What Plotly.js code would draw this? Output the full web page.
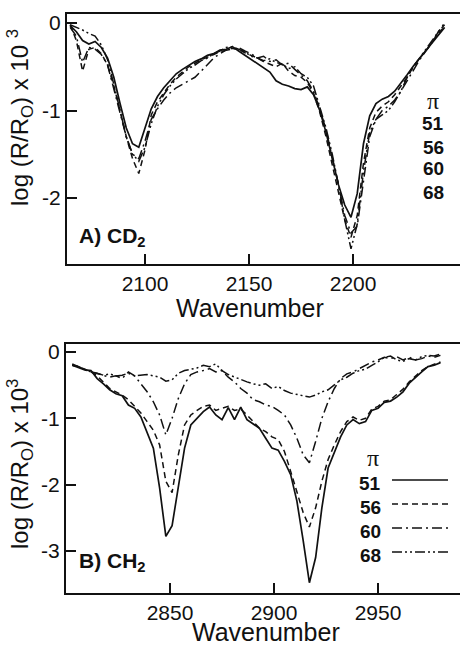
<!DOCTYPE html>
<html>
<head>
<meta charset="utf-8">
<script src="https://cdn.plot.ly/plotly-3.0.1.min.js"></script>
<style>html,body{margin:0;padding:0;background:#fff;}#chart{width:460px;height:648px;}</style>
</head>
<body>
<div id="chart"></div>
<script>
// ---------- Data: panel A (CD2) ----------
const seriesNames = ["51", "56", "60", "68"];
const wavenumberCD2 = [2064,2067,2070,2073,2076,2079,2082,2085,2088,2091,2094,2097,2100,2103,2106,2109,2112,2115,2118,2121,2124,2127,2130,2133,2136,2139,2142,2145,2148,2151,2154,2157,2160,2163,2166,2169,2172,2175,2178,2181,2184,2187,2190,2193,2196,2199,2202,2205,2208,2211,2214,2217,2220,2223,2226,2229,2232,2235,2238,2241,2244];
const cd2_51 = [-0.03,-0.10,-0.20,-0.24,-0.21,-0.28,-0.40,-0.62,-0.92,-1.20,-1.38,-1.42,-1.20,-0.98,-0.84,-0.74,-0.66,-0.58,-0.53,-0.48,-0.44,-0.41,-0.37,-0.35,-0.31,-0.30,-0.27,-0.32,-0.37,-0.42,-0.46,-0.52,-0.56,-0.66,-0.70,-0.72,-0.75,-0.76,-0.73,-0.82,-1.00,-1.25,-1.55,-1.85,-2.08,-2.22,-1.95,-1.38,-1.06,-0.92,-0.87,-0.84,-0.78,-0.69,-0.59,-0.49,-0.40,-0.31,-0.23,-0.14,-0.05];
const cd2_56 = [-0.02,-0.20,-0.55,-0.30,-0.28,-0.35,-0.48,-0.72,-1.00,-1.30,-1.55,-1.72,-1.45,-1.05,-0.90,-0.80,-0.70,-0.62,-0.56,-0.50,-0.46,-0.42,-0.39,-0.36,-0.33,-0.31,-0.29,-0.30,-0.34,-0.37,-0.40,-0.44,-0.47,-0.50,-0.46,-0.55,-0.60,-0.62,-0.68,-0.80,-1.02,-1.30,-1.62,-1.95,-2.25,-2.45,-2.20,-1.60,-1.20,-1.02,-0.95,-0.90,-0.82,-0.72,-0.62,-0.50,-0.40,-0.32,-0.22,-0.12,-0.04];
const cd2_60 = [-0.05,-0.15,-0.45,-0.28,-0.30,-0.36,-0.48,-0.75,-1.05,-1.30,-1.50,-1.55,-1.35,-1.10,-0.98,-0.88,-0.80,-0.74,-0.70,-0.66,-0.62,-0.55,-0.48,-0.40,-0.35,-0.31,-0.30,-0.28,-0.32,-0.35,-0.40,-0.38,-0.44,-0.42,-0.48,-0.46,-0.53,-0.60,-0.66,-0.78,-0.98,-1.22,-1.52,-1.85,-2.20,-2.40,-2.32,-1.80,-1.30,-1.10,-1.00,-0.95,-0.88,-0.78,-0.66,-0.55,-0.42,-0.32,-0.22,-0.10,0.00];
const cd2_68 = [-0.02,-0.05,-0.08,-0.12,-0.15,-0.25,-0.42,-0.70,-1.00,-1.30,-1.50,-1.58,-1.42,-1.15,-0.95,-0.82,-0.72,-0.64,-0.58,-0.52,-0.48,-0.43,-0.40,-0.35,-0.32,-0.28,-0.27,-0.30,-0.33,-0.38,-0.40,-0.43,-0.41,-0.45,-0.47,-0.52,-0.50,-0.58,-0.62,-0.72,-0.95,-1.20,-1.50,-1.85,-2.25,-2.58,-2.30,-1.70,-1.25,-1.10,-1.05,-1.00,-0.90,-0.78,-0.62,-0.50,-0.40,-0.30,-0.20,-0.10,-0.02];

// ---------- Data: panel B (CH2) ----------
const wavenumberCH2 = [2803,2806,2809,2812,2815,2818,2821,2824,2827,2830,2833,2836,2839,2842,2845,2848,2851,2854,2857,2860,2863,2866,2869,2872,2875,2878,2881,2884,2887,2890,2893,2896,2899,2902,2905,2908,2911,2914,2917,2920,2923,2926,2929,2932,2935,2938,2941,2944,2947,2950,2953,2956,2959,2962,2965,2968,2971,2974,2977,2980];
const ch2_51 = [-0.20,-0.24,-0.27,-0.28,-0.40,-0.48,-0.57,-0.63,-0.66,-0.80,-0.85,-0.98,-1.22,-1.45,-2.05,-2.78,-2.62,-2.00,-1.45,-1.10,-1.00,-0.90,-0.83,-0.95,-1.02,-0.84,-1.02,-0.83,-1.02,-1.08,-1.15,-1.30,-1.45,-1.48,-1.65,-1.85,-2.25,-2.84,-3.48,-3.10,-2.35,-1.75,-1.50,-1.28,-1.10,-1.02,-1.08,-1.05,-0.88,-0.85,-0.76,-0.74,-0.68,-0.60,-0.47,-0.38,-0.30,-0.22,-0.20,-0.16];
const ch2_56 = [-0.20,-0.22,-0.26,-0.30,-0.36,-0.45,-0.55,-0.60,-0.65,-0.72,-0.82,-0.92,-1.05,-1.18,-1.40,-1.95,-2.12,-1.55,-1.10,-0.95,-0.88,-0.82,-0.80,-0.88,-0.85,-0.82,-0.88,-0.86,-0.95,-1.05,-1.15,-1.20,-1.28,-1.32,-1.50,-1.80,-2.10,-2.42,-2.64,-2.35,-1.95,-1.62,-1.40,-1.20,-1.05,-0.98,-1.03,-1.00,-0.86,-0.82,-0.74,-0.72,-0.64,-0.56,-0.45,-0.36,-0.28,-0.22,-0.18,-0.15];
const ch2_60 = [-0.20,-0.22,-0.27,-0.30,-0.33,-0.35,-0.38,-0.36,-0.40,-0.30,-0.36,-0.48,-0.60,-0.75,-0.95,-1.25,-1.00,-0.70,-0.48,-0.34,-0.30,-0.28,-0.25,-0.30,-0.28,-0.38,-0.45,-0.55,-0.62,-0.72,-0.75,-0.80,-0.82,-0.88,-0.95,-1.10,-1.30,-1.55,-1.67,-1.35,-1.00,-0.75,-0.55,-0.40,-0.33,-0.30,-0.25,-0.20,-0.15,-0.12,-0.08,-0.10,-0.07,-0.12,-0.08,-0.12,-0.10,-0.06,-0.08,-0.05];
const ch2_68 = [-0.18,-0.22,-0.25,-0.30,-0.32,-0.35,-0.33,-0.36,-0.35,-0.32,-0.36,-0.35,-0.34,-0.36,-0.38,-0.44,-0.42,-0.32,-0.28,-0.26,-0.24,-0.20,-0.22,-0.18,-0.28,-0.34,-0.38,-0.42,-0.45,-0.48,-0.50,-0.48,-0.55,-0.52,-0.58,-0.62,-0.64,-0.66,-0.68,-0.65,-0.60,-0.57,-0.50,-0.42,-0.38,-0.32,-0.28,-0.26,-0.20,-0.15,-0.08,-0.06,-0.12,-0.14,-0.10,-0.12,-0.07,-0.05,-0.06,-0.03];

const ticksCD2 = [2100, 2150, 2200];
const ticksCH2 = [2850, 2900, 2950];
const yTicksCD2 = [0, -1, -2];
const yTicksCH2 = [0, -1, -2, -3];

// ---------- Styles ----------
const dashes = ["solid", "6px,4px", "10px,4px,2px,4px", "10px,3px,2px,3px,2px,3px"];
const widths = [1.7, 1.5, 1.5, 1.5];
const cd2Data = [cd2_51, cd2_56, cd2_60, cd2_68];
const ch2Data = [ch2_51, ch2_56, ch2_60, ch2_68];

const traces = [];
seriesNames.forEach((n, i) => {
  traces.push({x: wavenumberCD2, y: cd2Data[i], xaxis: 'x', yaxis: 'y', mode: 'lines', name: n,
    line: {color: '#111', width: widths[i], dash: dashes[i]}, showlegend: false});
});
seriesNames.forEach((n, i) => {
  traces.push({x: wavenumberCH2, y: ch2Data[i], xaxis: 'x2', yaxis: 'y2', mode: 'lines', name: n,
    line: {color: '#111', width: widths[i], dash: dashes[i]}, showlegend: false});
});

const FONT = "Liberation Sans, Arial, Helvetica, sans-serif";
const SERIF = "Liberation Serif, Times New Roman, serif";
const W = 460, H = 648;
const px = v => v / W;
const py = v => 1 - v / H;

const axisCommon = {
  showgrid: false, zeroline: false, showline: true, linecolor: '#111', linewidth: 2,
  ticks: 'inside', ticklen: 10, tickwidth: 2, tickcolor: '#111',
  tickfont: {family: FONT, size: 21, color: '#111'}, tickmode: 'array'
};

const annotations = [];
// axis titles
annotations.push({xref: 'paper', yref: 'paper', x: px(20), y: py(118), text: 'log (R/R<sub>O</sub>) x 10 <sup>3</sup>',
  textangle: -90, showarrow: false, font: {family: FONT, size: 24, color: '#111'}, xanchor: 'center', yanchor: 'middle'});
annotations.push({xref: 'paper', yref: 'paper', x: px(20), y: py(464), text: 'log (R/R<sub>O</sub>) x 10<sup>3</sup>',
  textangle: -90, showarrow: false, font: {family: FONT, size: 24, color: '#111'}, xanchor: 'center', yanchor: 'middle'});
annotations.push({xref: 'paper', yref: 'paper', x: px(250), y: py(308), text: 'Wavenumber', showarrow: false,
  font: {family: FONT, size: 25, color: '#111'}, xanchor: 'center', yanchor: 'middle', borderpad: 0});
annotations.push({xref: 'paper', yref: 'paper', x: px(266), y: py(632), text: 'Wavenumber', showarrow: false,
  font: {family: FONT, size: 25, color: '#111'}, xanchor: 'center', yanchor: 'middle', borderpad: 0});
// panel labels
annotations.push({xref: 'paper', yref: 'paper', x: px(77), y: py(237), text: '<b>A) CD<sub>2</sub></b>', showarrow: false,
  font: {family: FONT, size: 21, color: '#111'}, xanchor: 'left', yanchor: 'middle'});
annotations.push({xref: 'paper', yref: 'paper', x: px(77), y: py(562), text: '<b>B) CH<sub>2</sub></b>', showarrow: false,
  font: {family: FONT, size: 21, color: '#111'}, xanchor: 'left', yanchor: 'middle'});
// legend A (numbers only)
annotations.push({xref: 'paper', yref: 'paper', x: px(433), y: py(101), text: 'π', showarrow: false,
  font: {family: SERIF, size: 24, color: '#111'}, xanchor: 'center', yanchor: 'middle'});
const legAy = [124, 147, 169, 192];
seriesNames.forEach((n, i) => {
  annotations.push({xref: 'paper', yref: 'paper', x: px(433), y: py(legAy[i]), text: '<b>' + n + '</b>', showarrow: false,
    font: {family: FONT, size: 19, color: '#111'}, xanchor: 'center', yanchor: 'middle'});
});
// legend B
annotations.push({xref: 'paper', yref: 'paper', x: px(373), y: py(458), text: 'π', showarrow: false,
  font: {family: SERIF, size: 24, color: '#111'}, xanchor: 'center', yanchor: 'middle'});
const legBy = [483, 507, 531, 555];
const shapes = [];
seriesNames.forEach((n, i) => {
  annotations.push({xref: 'paper', yref: 'paper', x: px(383), y: py(legBy[i]), text: '<b>' + n + '</b>', showarrow: false,
    font: {family: FONT, size: 19, color: '#111'}, xanchor: 'right', yanchor: 'middle'});
  shapes.push({type: 'line', xref: 'paper', yref: 'paper', x0: px(392), x1: px(448), y0: py(legBy[i] - 3), y1: py(legBy[i] - 3),
    line: {color: '#111', width: widths[i], dash: dashes[i]}});
});

const layout = {
  width: W, height: H,
  margin: {l: 0, r: 0, t: 0, b: 0},
  paper_bgcolor: '#fff', plot_bgcolor: '#fff',
  showlegend: false,
  xaxis: Object.assign({}, axisCommon, {domain: [px(67), 1], range: [2062.5, 2251.4], anchor: 'y',
    tickvals: ticksCD2, ticktext: ticksCD2.map(String), mirror: true}),
  yaxis: Object.assign({}, axisCommon, {domain: [py(264), py(14)], range: [-2.754, 0.103], anchor: 'x',
    tickvals: yTicksCD2, ticktext: yTicksCD2.map(String)}),
  xaxis2: Object.assign({}, axisCommon, {domain: [px(66), 1], range: [2800, 2989.4], anchor: 'y2',
    tickvals: ticksCH2, ticktext: ticksCH2.map(String), mirror: true}),
  yaxis2: Object.assign({}, axisCommon, {domain: [py(593), py(344)], range: [-3.635, 0.121], anchor: 'x2',
    tickvals: yTicksCH2, ticktext: yTicksCH2.map(String)}),
  annotations: annotations,
  shapes: shapes
};

Plotly.newPlot('chart', traces, layout, {staticPlot: true, displayModeBar: false});
</script>
</body>
</html>
